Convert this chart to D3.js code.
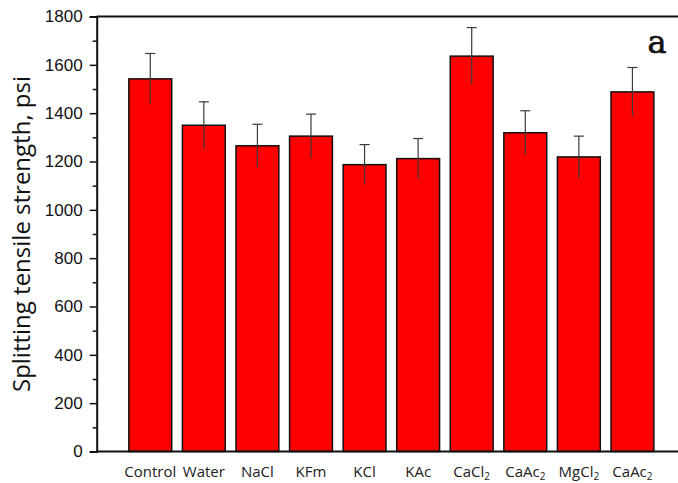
<!DOCTYPE html>
<html>
<head>
<meta charset="utf-8">
<script src="https://cdn.jsdelivr.net/npm/d3@7/dist/d3.min.js"></script>
<style>
  html, body { margin: 0; padding: 0; background: #fff; overflow: hidden; }
  svg { display: block; }
</style>
</head>
<body>
<script>
// Splitting tensile strength by treatment
const categories = ["Control", "Water", "NaCl", "KFm", "KCl", "KAc", "CaCl2", "CaAc2", "MgCl2", "CaAc2"];
const strength   = [1542, 1350, 1265, 1305, 1187, 1212, 1636, 1319, 1219, 1488];
const errors     = [105, 97, 89, 91, 83, 83, 118, 91, 86, 101];
const yTicks     = d3.range(0, 1801, 100);

const W = 678, H = 483;
const plot = { left: 96.7, right: 686, top: 16.5, bottom: 451.5 };

const svg = d3.select("body").append("svg")
  .attr("width", W).attr("height", H);

const y = d3.scaleLinear().domain([0, 1800]).range([plot.bottom, plot.top]);

const step = (plot.right - plot.left) / 11;
const x = d3.scaleBand()
  .domain(d3.range(categories.length))
  .range([plot.left + step / 2, plot.left + step * 10.5])
  .paddingInner(0.2)
  .paddingOuter(0.1);

// Bars
svg.append("g").selectAll("rect")
  .data(strength)
  .join("rect")
  .attr("x", (d, i) => x(i))
  .attr("y", d => y(d))
  .attr("width", x.bandwidth())
  .attr("height", d => y(0) - y(d))
  .attr("fill", "#ff0000")
  .attr("stroke", "#111")
  .attr("stroke-width", 1.5);

// Error bars (cap on the upper end only)
const eb = svg.append("g").attr("stroke", "#3a3a3a").attr("stroke-width", 1.2);
strength.forEach((v, i) => {
  const cx = x(i) + x.bandwidth() / 2;
  eb.append("line")
    .attr("x1", cx).attr("x2", cx)
    .attr("y1", y(v + errors[i])).attr("y2", y(v - errors[i]));
  eb.append("line")
    .attr("x1", cx - 5).attr("x2", cx + 5)
    .attr("y1", y(v + errors[i])).attr("y2", y(v + errors[i]));
});

// Frame: top line
svg.append("line")
  .attr("x1", plot.left).attr("x2", plot.right)
  .attr("y1", plot.top).attr("y2", plot.top)
  .attr("stroke", "#111").attr("stroke-width", 2);

// Y axis with major/minor ticks
const yAxis = svg.append("g")
  .attr("transform", `translate(${plot.left},0)`)
  .call(d3.axisLeft(y).tickValues(yTicks).tickSize(7).tickPadding(7)
    .tickFormat(d => d % 200 === 0 ? d : ""));
yAxis.select(".domain").attr("stroke", "#111").attr("stroke-width", 2);
yAxis.selectAll(".tick line")
  .attr("stroke", "#111").attr("stroke-width", 1.5)
  .attr("x2", d => d % 200 === 0 ? -7 : -4);
yAxis.selectAll(".tick text")
  .attr("font-family", "'Liberation Sans', Arial, sans-serif")
  .attr("font-size", 17).attr("fill", "#111");

// X axis
const xAxis = svg.append("g")
  .attr("transform", `translate(0,${plot.bottom})`)
  .call(d3.axisBottom(x).tickSize(0).tickPadding(10).tickFormat(""));
xAxis.select(".domain").remove();
svg.append("line")
  .attr("x1", plot.left).attr("x2", plot.right)
  .attr("y1", plot.bottom).attr("y2", plot.bottom)
  .attr("stroke", "#111").attr("stroke-width", 2);

// Category labels with subscripted digits
xAxis.selectAll(".tick text").each(function(i) {
  const t = d3.select(this)
    .attr("font-family", "'Open Sans', sans-serif")
    .attr("font-size", 15).attr("fill", "#222")
    .attr("dy", "1.0em");
  const parts = categories[i].match(/[^0-9]+|[0-9]+/g);
  parts.forEach(p => {
    if (/^[0-9]+$/.test(p)) {
      t.append("tspan").attr("font-size", 10).attr("dy", 3).text(p);
    } else {
      t.append("tspan").text(p);
    }
  });
});

// Y axis title
svg.append("text")
  .attr("transform", `translate(30,${(plot.top + plot.bottom) / 2}) rotate(-90)`)
  .attr("text-anchor", "middle")
  .attr("font-family", "'Open Sans', sans-serif")
  .attr("font-size", 24).attr("fill", "#111")
  .text("Splitting tensile strength, psi");

// Panel letter
svg.append("text")
  .attr("x", 657).attr("y", 53)
  .attr("text-anchor", "middle")
  .attr("font-family", "'DejaVu Serif', serif")
  .attr("font-size", 32).attr("fill", "#111")
  .attr("stroke", "#111").attr("stroke-width", 0.7)
  .text("a");
</script>
</body>
</html>
